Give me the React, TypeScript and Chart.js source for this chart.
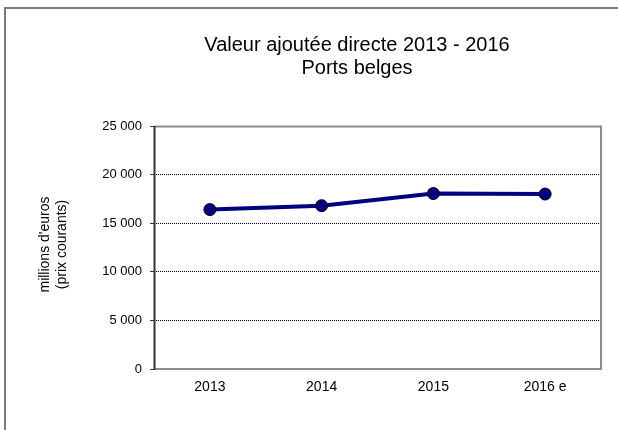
import React, { useEffect, useRef } from "react";
import { Chart, registerables } from "chart.js";

Chart.register(...registerables);

const categories = ["2013", "2014", "2015", "2016 e"];
const values = [16400, 16800, 18050, 18000];
const yTicks = [0, 5000, 10000, 15000, 20000, 25000];
const titleLines = ["Valeur ajoutée directe 2013 - 2016", "Ports belges"];
const yTitleLines = ["millions d'euros", "(prix courants)"];

const FONT = "'Liberation Sans', Arial, sans-serif";

function fmt(v: number): string {
  return String(v).replace(/\B(?=(\d{3})+(?!\d))/g, " ");
}

const framePlugin = {
  id: "frame",
  beforeDraw(chart: any) {
    const { ctx, width, height } = chart;
    ctx.save();
    ctx.fillStyle = "#fff";
    ctx.fillRect(0, 0, width, height);
    ctx.strokeStyle = "#7a7a7a";
    ctx.lineWidth = 2;
    ctx.beginPath();
    ctx.moveTo(5, height + 5);
    ctx.lineTo(5, 8);
    ctx.lineTo(width + 5, 8);
    ctx.stroke();
    ctx.restore();
  },
  beforeDatasetsDraw(chart: any) {
    const { ctx, chartArea } = chart;
    const { left, top, right, bottom } = chartArea;
    ctx.save();
    ctx.strokeStyle = "#8c8c8c";
    ctx.lineWidth = 2;
    ctx.beginPath();
    ctx.moveTo(left, top + 0.5);
    ctx.lineTo(right, top + 0.5);
    ctx.lineTo(right, bottom);
    ctx.lineTo(left, bottom);
    ctx.stroke();
    ctx.strokeStyle = "#333";
    ctx.beginPath();
    ctx.moveTo(left + 0.5, top);
    ctx.lineTo(left + 0.5, bottom + 1);
    ctx.stroke();
    ctx.restore();
  },
  afterDraw(chart: any) {
    const { ctx } = chart;
    ctx.save();
    ctx.fillStyle = "#000";
    ctx.textAlign = "center";
    ctx.textBaseline = "middle";
    ctx.font = `20px ${FONT}`;
    ctx.fillText(titleLines[0], 357, 45);
    ctx.fillText(titleLines[1], 357, 68);
    ctx.font = `14px ${FONT}`;
    const cy = (chart.chartArea.top + chart.chartArea.bottom) / 2 - 3;
    [45, 62].forEach((x, i) => {
      ctx.save();
      ctx.translate(x, cy);
      ctx.rotate(-Math.PI / 2);
      ctx.fillText(yTitleLines[i], 0, 0);
      ctx.restore();
    });
    ctx.restore();
  },
};

export default function App() {
  const ref = useRef<HTMLCanvasElement | null>(null);
  useEffect(() => {
    document.body.style.margin = "0";
    const canvas = ref.current!;
    const chart = new Chart(canvas, {
      type: "line",
      data: {
        labels: categories,
        datasets: [
          {
            data: values,
            borderColor: "#000080",
            borderWidth: 4,
            pointRadius: 6,
            pointHoverRadius: 6,
            pointBackgroundColor: "#000080",
            pointBorderColor: "#000",
            pointBorderWidth: 1,
            tension: 0,
          },
        ],
      },
      options: {
        animation: false,
        responsive: false,
        maintainAspectRatio: false,
        layout: { padding: { left: 0, top: 126, right: 17, bottom: 0 } },
        plugins: { legend: { display: false }, title: { display: false }, tooltip: { enabled: false } },
        scales: {
          x: {
            offset: true,
            grid: { display: false, drawTicks: false },
            border: { display: false },
            ticks: { color: "#000", font: { family: FONT, size: 14 }, padding: 10, maxRotation: 0 },
            afterFit: (s: any) => {
              s.height = 61;
            },
          },
          y: {
            min: 0,
            max: 25000,
            afterBuildTicks: (s: any) => {
              s.ticks = yTicks.map((v) => ({ value: v }));
            },
            grid: {
              color: (c: any) =>
                c.tick && (c.tick.value === 0 || c.tick.value === 25000) ? "rgba(0,0,0,0)" : "#000",
              lineWidth: 1,
              tickLength: 4,
              tickColor: "#333",
              tickBorderDash: [],
              tickWidth: 1,
            },
            border: { display: false, dash: [1, 1] },
            ticks: {
              color: "#000",
              font: { family: FONT, size: 13 },
              padding: 8,
              callback: (v: any) => fmt(Number(v)),
            },
            afterFit: (s: any) => {
              s.width = 154;
            },
          },
        },
      },
      plugins: [framePlugin],
    });
    return () => chart.destroy();
  }, []);
  return (
    <div style={{ width: 618, height: 430 }}>
      <canvas ref={ref} width={618} height={430} style={{ display: "block" }} />
    </div>
  );
}
